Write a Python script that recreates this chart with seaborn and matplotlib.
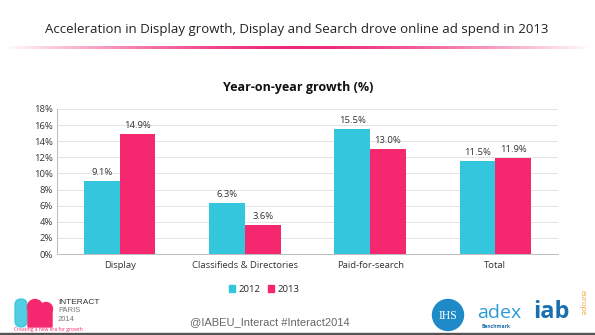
import numpy as np
import pandas as pd
import matplotlib
matplotlib.use("Agg")
import matplotlib.pyplot as plt
import seaborn as sns
from matplotlib.patches import Circle, Polygon, FancyBboxPatch, Patch

categories = ["Display", "Classifieds & Directories", "Paid-for-search", "Total"]
years = ["2012", "2013"]
values_2012 = [9.1, 6.3, 15.5, 11.5]
values_2013 = [14.9, 3.6, 13.0, 11.9]
yticks = [0, 2, 4, 6, 8, 10, 12, 14, 16, 18]

CYAN = "#33C6DC"
PINK = "#F5286F"

df = pd.DataFrame({
    "category": categories * 2,
    "year": [years[0]] * 4 + [years[1]] * 4,
    "value": values_2012 + values_2013,
})

sns.set_theme(style="white")
plt.rcParams["font.family"] = ["Open Sans", "DejaVu Sans"]

fig = plt.figure(figsize=(5.95, 3.35), dpi=100)
W, H = 595, 335

def fx(x):
    return x / W

def fy(y):
    return 1 - y / H

# axes: x 57..558, y 109..254
ax = fig.add_axes([fx(57), fy(254), fx(558) - fx(57), fy(109) - fy(254)])
sns.barplot(data=df, x="category", y="value", hue="year",
            palette=[CYAN, PINK], width=0.57, saturation=1,
            ax=ax, legend=False, linewidth=0)

ax.set_ylim(0, 18)
ax.set_yticks(yticks)
ax.set_yticklabels([f"{t}%" for t in yticks], fontsize=6.8, color="#333333")
ax.tick_params(axis="x", labelsize=6.8, colors="#333333", length=0, pad=5)
ax.tick_params(axis="y", length=0, pad=3)
ax.set_xlabel("")
ax.set_ylabel("")
ax.yaxis.grid(True, color="#E4E4E4", linewidth=0.7)
ax.set_axisbelow(True)
for s in ["top", "right"]:
    ax.spines[s].set_visible(False)
ax.spines["left"].set_color("#BBBBBB")
ax.spines["bottom"].set_color("#BBBBBB")
ax.spines["left"].set_linewidth(0.7)
ax.spines["bottom"].set_linewidth(0.7)
ax.set_xlim(-0.5, 3.5)

for cont in ax.containers:
    ax.bar_label(cont, labels=[f"{v:.1f}%" for v in cont.datavalues],
                 fontsize=6.8, color="#333333", padding=3)

# chart title
fig.text(fx(298), fy(87), "Year-on-year growth (%)", ha="center", va="center",
         fontsize=9, fontweight="bold", color="#111111")

# legend
handles = [Patch(color=CYAN, label=years[0]), Patch(color=PINK, label=years[1])]
fig.legend(handles=handles, loc="center", bbox_to_anchor=(fx(264), fy(289)),
           ncol=2, frameon=False, fontsize=6.8, handlelength=0.7,
           handleheight=0.7, handletextpad=0.3, columnspacing=0.8)

# main title
fig.text(fx(297), fy(30), "Acceleration in Display growth, Display and Search drove online ad spend in 2013",
         ha="center", va="center", fontsize=9.5, color="#222222")

# gradient underline
gax = fig.add_axes([fx(3), fy(49), fx(592) - fx(3), fy(46) - fy(49)])
xs = np.linspace(-1, 1, 400)
alpha = np.clip(1 - np.abs(xs) ** 1.5, 0, 1)
img = np.zeros((1, 400, 4))
img[..., 0] = 0.93
img[..., 1] = 0.15
img[..., 2] = 0.47
img[..., 3] = alpha
gax.imshow(img, aspect="auto")
gax.axis("off")

# footer
fig.text(fx(270), fy(322), "@IABEU_Interact #Interact2014", ha="center", va="center",
         fontsize=8, color="#666666", family=["Liberation Sans", "DejaVu Sans"])

# overlay for logos
lax = fig.add_axes([0, 0, 1, 1], facecolor="none")
lax.set_xlim(0, W)
lax.set_ylim(H, 0)
lax.axis("off")

# left logo approximation
lax.add_patch(FancyBboxPatch((15, 299), 12, 28, boxstyle="round,pad=0,rounding_size=6",
                             color=CYAN, alpha=0.85))
lax.add_patch(Circle((35, 307), 7.5, color=PINK))
lax.add_patch(Circle((46, 309), 6.5, color=PINK))
lax.add_patch(Polygon([(28, 308), (52, 310), (52, 327), (28, 327)], color=PINK))
lax.text(58, 302.5, "INTERACT", fontsize=6, color="#333333", va="center",
         family=["Liberation Sans Narrow", "Liberation Sans", "DejaVu Sans"])
lax.text(58, 311, "PARIS", fontsize=5.5, color="#777777", va="center",
         family=["Liberation Sans Narrow", "Liberation Sans", "DejaVu Sans"])
lax.text(58, 319.5, "2014", fontsize=5.5, color="#777777", va="center",
         family=["Liberation Sans Narrow", "Liberation Sans", "DejaVu Sans"])
lax.text(14, 329.5, "Creating a new era for growth", fontsize=3.6, color=PINK, va="center")

# right logos approximation
lax.add_patch(Circle((448, 315), 15.5, color="#1E8BC8"))
lax.text(448, 316, "IHS", fontsize=8.5, color="white", ha="center", va="center",
         family=["Liberation Serif", "DejaVu Serif"])
lax.text(477, 313, "adex", fontsize=14, color="#2A9AD6", va="center")
lax.text(481, 326, "Benchmark", fontsize=3.6, color="#1E6FA8", va="center", fontweight="bold")
lax.text(533, 312, "iab", fontsize=17, color="#1A6FB0", va="center", fontweight="bold")
lax.text(582, 303, "europe", fontsize=5.5, color="#F0A030", rotation=270, va="center", ha="center")

# bottom dark strip
lax.add_patch(plt.Rectangle((0, 332.5), W, 2.5, color="#555555"))

fig.savefig("out.png", dpi=100)
